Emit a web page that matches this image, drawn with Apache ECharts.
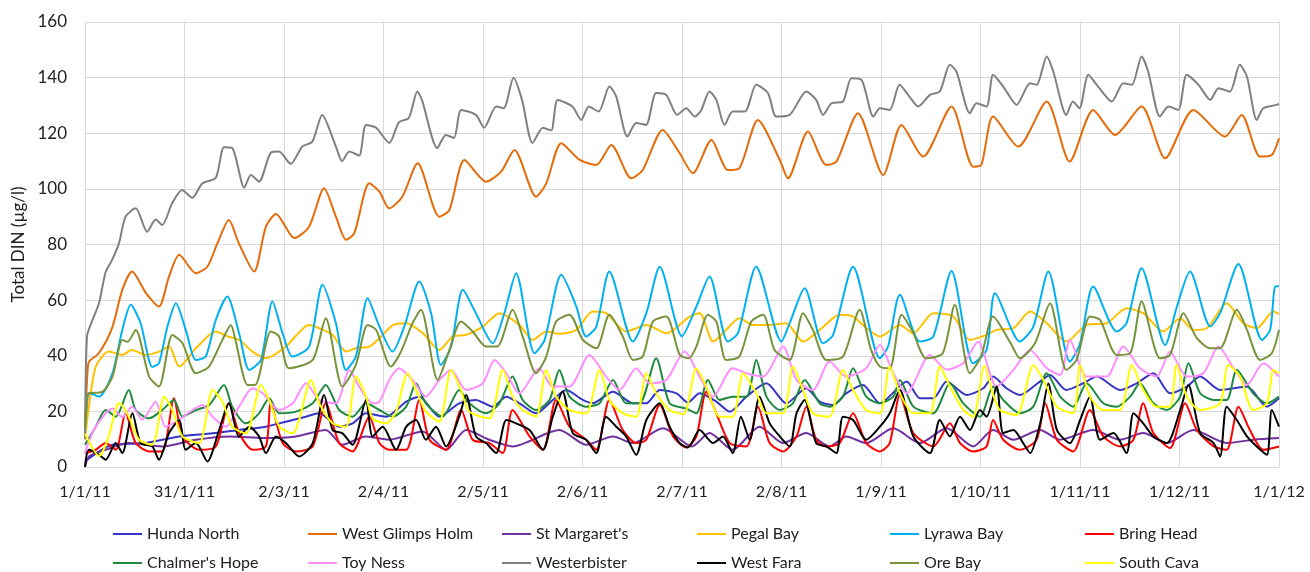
<!DOCTYPE html>
<html>
<head>
<meta charset="utf-8">
<script src="https://cdn.jsdelivr.net/npm/echarts@6/dist/echarts.min.js"></script>
<style>
  html, body { margin: 0; padding: 0; background: #fff; }
  #chart { width: 1310px; height: 572px; }
</style>
</head>
<body>
<div id="chart"></div>
<script>
// [day of 2011, total DIN µg/l]
const hundaNorth = [[0,2],[8.4,8],[18.6,8.6],[28.8,11],[39,12.1],[47.1,13.3],[55.3,14.5],[61.4,16.3],[67.5,18.1],[71.6,19.3],[77.7,14.5],[81.8,15.7],[85.9,19.3],[92,18.1],[98.2,23.5],[102.2,25.3],[108.3,18.1],[114.4,22.9],[119.5,24.1],[124.6,21.7],[128.8,25.3],[132.8,22.9],[137.9,19.3],[143,24.1],[147.1,27.7],[152.2,24.1],[155.2,22.9],[161.4,27.1],[167.5,22.9],[171.6,22.9],[175.7,27.7],[180.8,26.5],[184.3,23.2],[187.9,26.5],[193,23.5],[197.1,19.9],[202.2,25.3],[208.3,30.1],[214.4,22.9],[220.5,28.3],[224.6,23.5],[228.7,22.3],[232.7,26.5],[237.8,29.5],[243,22.9],[251.2,30.7],[255.2,24.7],[259.3,24.7],[263.4,30.7],[269.5,25.9],[274.6,28.3],[277.6,32.5],[281.7,28.3],[285.8,25.9],[291.9,30.7],[295,33.1],[300,27.7],[305.2,30.1],[309.3,32.5],[316.4,27.7],[321.5,30.1],[326.6,33.7],[331.7,26.5],[336.8,28.9],[340.9,32.5],[347,27.7],[355.2,28.9],[361.3,21.7],[365,24.7]];

const westGlimpsHolm = [[0,14],[0.8,35],[1.3,38],[4.3,41],[8.3,50],[11.4,63.7],[14.4,70.3],[18.6,62.6],[22.6,57.7],[25.7,68.5],[28.8,76.3],[33.9,69.7],[37.4,72],[40.5,80.5],[44,88.8],[47,80.5],[51.7,70.3],[55.3,86.4],[58.4,91],[64,82.3],[68.5,86.4],[73.1,100.2],[76.7,90],[79.8,81.7],[82.3,84],[86.9,102],[90,99],[93,93],[97,97.2],[101.7,109.2],[108.3,90],[111.4,92.4],[116,110.4],[122.6,102.6],[127.2,106.2],[131.3,114],[137.9,97.2],[141,102],[145.6,116.4],[151.2,110.4],[156.3,108.6],[160.9,115.8],[167,103.8],[170.5,106.8],[176.6,121.2],[181.8,112.8],[185.8,105.6],[191.5,117.6],[196.5,106.8],[200,107.4],[205.7,124.8],[212.4,110.4],[214.9,103.8],[221,120.6],[226.6,108.6],[229.7,109.8],[236.3,127.2],[244,105],[249.6,123],[256.2,111.6],[264.9,129.6],[271.5,108],[274,108.6],[277.6,126],[285.3,115.2],[294,131.4],[301,109.8],[308.2,128.4],[314.9,119.4],[323,129.6],[330.2,111],[338.8,128.4],[348.5,118.8],[353.6,126.6],[359.2,111.6],[362.8,112.2],[365,118.2]];

const stMargarets = [[0,0],[1.2,3.8],[6.3,6.2],[13.4,8.6],[23.6,7.4],[33.9,9.8],[44,11],[55.3,10.4],[64.5,11],[73.6,13.3],[78.7,8],[85.9,11],[93,9.8],[103.2,12.8],[110.4,6.2],[116.5,13.3],[123.6,9.8],[130.7,7.4],[145,13.3],[153.2,8],[161.4,11],[167.5,8.6],[176.7,13.9],[185.5,7.4],[190.9,12.2],[198,6.2],[206.2,14.5],[213.4,8.6],[220.5,12.2],[227.6,7.4],[232.7,11],[238.8,8.6],[247.1,13.9],[255.2,8.6],[263.4,13.9],[271.5,7.4],[277.6,13.3],[283.8,9.8],[291.9,13.3],[298.1,9.8],[308.2,13.3],[316.4,9.8],[323.5,12.2],[330.7,8.6],[338.8,13.3],[349,8.6],[357.1,9.8],[365,10.4]];

const pegalBay = [[0,10],[1,20],[3.3,36.1],[7.3,41.5],[11.4,40.3],[14.3,42.1],[18.6,40.3],[22.6,41.5],[25.7,43.3],[28.8,36.1],[33.9,42.7],[40,48.7],[43.5,47],[47.1,45.7],[51.2,41.5],[55.3,39.1],[61.4,43.3],[68.5,51.1],[71.6,49.9],[75.7,47.5],[79.8,41.5],[82.8,42.7],[86.9,43.3],[90,46.3],[94.1,51],[98.2,51.7],[103.3,48.1],[108.3,42.1],[112.4,46.9],[116.5,47.5],[121.6,50.5],[126.7,55.3],[132.8,51.1],[136.9,45.7],[141,48.7],[145,47.9],[150.2,49.3],[155.2,55.9],[159.3,55.3],[165.4,48.7],[171.6,51.1],[177.7,48.1],[184.8,54.1],[187.9,55.3],[192,45.1],[196,49.3],[200,53.5],[204.2,51.1],[209.3,51.1],[214.3,51.7],[219.5,45.1],[224.6,49.3],[230.7,54.7],[234.8,54.1],[238.9,49.9],[243,46.9],[249.1,51.1],[253.2,48.1],[259.3,55.3],[265.4,54.1],[270.5,45.7],[275.6,47.5],[278.7,49.3],[283.8,49.9],[288.9,55.9],[294,51.7],[300,45.1],[306.2,51.1],[312.3,51.7],[318.4,57.1],[323.5,55.3],[329.6,48.7],[334.8,53.5],[338.8,49.3],[342.9,49.9],[349,58.9],[354.1,51.7],[358.2,49.9],[363.3,55.9],[365,55]];

const lyrawaBay = [[0,14],[0.8,26],[1.2,26.5],[4.3,25.3],[8.4,33.7],[11.4,49.3],[14,58.3],[17,51.7],[20.6,36],[22.6,37.3],[25.2,50.5],[27.8,58.9],[30.8,49.3],[33.9,38.5],[36.9,39.7],[40,52.9],[43.5,61.3],[47.1,48.1],[50.2,34.9],[53.8,38.5],[57.3,59.5],[60.4,48.1],[63.4,39.7],[68.5,43.3],[72.6,65.5],[76.7,51.7],[79.8,34.9],[82.8,39.7],[86.4,60.7],[90,50.5],[94,41.5],[97.6,50.5],[102.2,66.7],[105.8,55.3],[108.8,36.7],[111.9,43.3],[115.5,63.7],[119.5,55.3],[124.6,44.5],[128.2,55.3],[131.8,69.7],[137.4,40.9],[140.5,45.7],[145.6,69.1],[150.2,57.7],[153.2,46.9],[156.3,50.5],[160.3,70.3],[167.5,45.1],[171.6,55.3],[175.7,72],[182.5,47],[186.9,57.7],[190.9,68.5],[196.5,45.1],[199.6,48.1],[205.2,72],[212.9,45.1],[215.4,51.7],[220,64.3],[225.6,44.5],[228.7,47.5],[234.8,72],[243,39.1],[245.5,43.3],[249.1,61.9],[255.2,45.1],[259.3,46.9],[264.9,70.5],[271.5,37.3],[275.6,42.1],[278.2,62.5],[285.8,45.1],[289.9,50.5],[294.5,70.3],[301.1,37.9],[304.2,44.5],[308.2,64.9],[315.4,48.7],[318.4,51.7],[323,71.5],[330.2,43.9],[333.8,57.7],[337.8,70.3],[344,50.5],[347,55.3],[352.6,73],[359.8,45.7],[362.3,49.3],[363.8,64.9],[365,65]];

const bringHead = [[0,5],[3.3,6.2],[6.3,8.6],[9.4,6.2],[12.4,19.3],[15.5,8.6],[19.6,5.6],[23.6,5.6],[27.2,24.7],[29.8,11],[34.9,6.2],[40,7.4],[44,22.9],[47.1,12.2],[51.2,6.2],[55.3,7.4],[56.8,22.9],[60.4,8.6],[64.5,5.6],[69.6,7.4],[73.6,22.9],[77.7,8.6],[81.8,5.6],[86.9,18.1],[90,8.6],[93,6.2],[98.2,6.2],[102.2,24.1],[105.3,9.8],[110.4,6.2],[115,20.5],[118.5,9.8],[123.6,8.6],[127.7,5],[130.7,20.5],[135.9,11],[140,6.2],[144,24.1],[148.1,14.5],[153.2,9.8],[156.3,6.2],[160.3,24.1],[164.4,13.3],[168.5,8.6],[171.6,9.8],[175.7,22.3],[179.8,11],[183.8,7],[186.9,11],[189.9,27.1],[193,19.3],[197.1,8.6],[202.2,7.4],[205.7,21.7],[209.3,8.6],[213.4,5.6],[217.5,11],[220.5,21.7],[223.5,9.8],[226.6,7.4],[230.7,8.6],[234.8,19.3],[238.8,8.6],[243,5.6],[246,8.6],[249.1,25.9],[253.2,12.2],[259.3,7.4],[264.4,15.7],[267.5,8.6],[271.5,5.6],[275.6,7.4],[277.6,16.9],[280.7,9.8],[285.8,6.2],[290.9,9.8],[293.5,22.9],[297.1,9.8],[302.1,5.6],[307.2,20.5],[311.3,11],[316.4,7.4],[320.5,9.8],[323.5,22.9],[326.6,12.2],[331.7,6.8],[336.3,22.9],[339.9,13.3],[345,7.4],[349,6.2],[352.6,21.7],[356.1,13.3],[360.2,6.2],[365,7.4]];

const chalmersHope = [[0,8],[3.3,14.5],[6.3,20.5],[9.4,18.1],[13.4,27.7],[15.5,20.5],[19.6,17.5],[23.6,20.5],[27.2,24.1],[29.8,18.1],[33.9,20.5],[38,22.3],[42.5,29.5],[45,21.7],[49.2,15.7],[53.2,19.3],[56.3,24.7],[59.4,19.3],[64.5,19.9],[69.6,22.9],[73.6,29.5],[77.7,20.5],[81.8,18.1],[85.9,22.9],[90,20.5],[94,18.1],[98.2,21.7],[101.2,30.1],[104.2,22.9],[109.3,18.1],[114.4,27.7],[117.5,22.9],[122.6,19.3],[126.7,22.9],[130.7,32.5],[133.8,24.1],[137.9,20.5],[142,24.1],[145,34.9],[148.1,25.3],[153.2,21.7],[157.3,22.9],[161.4,31.3],[165.4,22.9],[169.5,22.9],[174.6,39.1],[178.7,22.9],[183.8,21],[186.9,19.3],[190.4,31.3],[194,24.1],[198,25.3],[202.2,25.3],[205.2,38.5],[208.3,25.3],[212.4,20.5],[216.4,22.9],[220,31.3],[224.6,22.9],[227.6,21.7],[231.7,25.3],[234.8,35.5],[238.8,25.3],[243,22.9],[247.1,25.3],[249.1,31.3],[253.2,21.7],[259.3,19.3],[264.4,30.1],[268.5,22.9],[273.6,18.1],[277.6,28.9],[280.7,24.1],[285.8,19.3],[289.9,21.7],[294,33.7],[298.1,25.3],[302.1,21.7],[306.2,30.1],[311.3,22.9],[315.4,21.7],[319.5,25.3],[322.5,30.1],[326.6,22.9],[330.7,20.5],[334.8,25.3],[337.3,37.3],[340.9,26.5],[345,24.1],[349,24.1],[352.1,34.9],[357.1,26.5],[361.3,22.9],[365,25.3]];

const toyNess = [[0,5],[3,14],[8.4,21],[11.4,18],[14.4,21.7],[17.5,17],[21.6,23.5],[24.7,14.5],[28.8,17],[32.9,20.5],[35.9,22.3],[39,18.1],[43.1,14.5],[47.1,21.7],[51.2,28.3],[54.3,26.5],[59.4,20.5],[63.5,22.9],[67.5,30.1],[71.6,24.1],[76.7,22.9],[80.8,34.9],[83.8,28.9],[87.9,22.9],[90,23.5],[93,31.3],[96,35.5],[100.1,31.3],[104.2,25.3],[108.3,31.3],[111.9,34.9],[116.5,27.7],[121.6,30.1],[125.2,38.5],[128.8,33.7],[132.8,26.5],[138.9,35.5],[143,28.9],[148.1,28.9],[154.2,40.3],[159.3,32.5],[163.4,27.7],[168.5,35.5],[172.6,30.1],[177.7,31.3],[183.3,41.5],[187.9,32.5],[192,25.3],[198,35.5],[202.2,33.7],[207.3,32.5],[213.4,43.3],[217.5,31.3],[222.5,27.7],[227.6,37.9],[232.7,32.5],[238.8,35.5],[243,43.9],[247.1,33.7],[251.2,26.5],[258.3,40.3],[263.4,35],[268.5,37.3],[273,45],[278.7,28.9],[283.8,34.9],[288.9,42.1],[294,35.5],[298.1,33.1],[301.1,45.7],[306.2,32.5],[312.3,32.5],[317.4,43.3],[322.5,35.5],[327.6,32.5],[331.7,41.5],[336.8,32.5],[341.9,33.7],[346.5,43.3],[351.1,35.5],[355.2,29.5],[360.2,37.3],[365,32.5]];

const westerbister = [[0,10],[0.6,47],[2,52],[4.3,59],[6.3,70],[8.3,74.5],[10.4,80.5],[12.4,90],[15.5,93],[19,84.6],[21.6,89],[23.6,87],[26.7,95],[29.7,99.6],[32.8,96.8],[35.9,102],[40,104],[42.5,115],[45,114.7],[48.7,100.4],[50.7,105],[53.2,102.6],[56.8,113],[59.3,113.4],[62.9,109],[66.4,115.2],[69.5,117],[72.5,126.6],[76.7,115.2],[78.6,110],[80.8,113.4],[83.8,112],[85.9,123],[89,122],[93,116.5],[96,124],[99,125.5],[101.6,135],[103,132],[107.7,114.7],[110.3,119.4],[112.8,118.3],[115,128.4],[119.5,126.6],[122,122],[125.7,129.6],[128,129],[131,140],[133.6,132],[136.8,116.5],[140,122],[142.5,121],[144.5,132],[149,129.6],[151.7,124.8],[154,129.6],[157,127.8],[160.3,136.8],[162.4,133.2],[165.8,118.8],[168.5,123.7],[171.5,123],[174.6,134.5],[177.7,133.8],[181,126.6],[183.8,129],[186.4,126],[188.4,128.4],[190.9,135],[193,132],[195.5,123],[198,127.8],[201.7,127.8],[205.2,137.4],[208.8,134.4],[211.3,126],[215.4,126.6],[220.5,135],[223.5,132],[225.6,126.6],[228.2,130.8],[231.7,131.4],[234.3,139.8],[237.4,139.2],[241,126],[243,129],[246,128.4],[249,137.4],[252,133.2],[254.7,129.6],[258.3,133.8],[261.3,135],[264.4,144.6],[266.4,142.2],[270.5,127.2],[272.5,130.8],[275.6,129.6],[277.6,141],[280.7,136.8],[284.8,130.2],[288.9,138],[290.9,137.4],[294,147.6],[296,142.2],[300,126.6],[302,131.4],[304,129],[306.7,141],[309.3,137.4],[313.9,131.4],[317.4,138],[320,137.4],[323,147.6],[325,142.2],[328.6,126],[331.2,129.6],[334.2,128.4],[336.8,141],[340.4,137.4],[344,132],[346.5,136.2],[350,135],[353,144.6],[355.2,140.4],[358.2,124.8],[360.2,129],[364.3,130.2],[365,130.5]];

const westFara = [[0,0],[1.2,6.2],[4.3,4.4],[6.3,2.6],[9.4,8.6],[11.4,5],[14.5,19.3],[17,8.6],[20.6,7.4],[22.6,2.6],[25.7,12.2],[28.8,16.9],[30.8,6.2],[33.9,8.6],[37.4,2],[41,13.3],[44,22.9],[47.1,11],[50.2,14.5],[53.2,11],[55.3,5],[58.4,11],[61.4,8.6],[65.5,3.8],[69.6,8.6],[73.1,25.9],[75.7,13.3],[78.7,12.1],[81.8,8],[85.9,24.1],[87.9,11],[91,14.5],[95.1,6.2],[98.2,14.5],[101.2,16.9],[104.2,9.8],[107.3,14.5],[110.4,7.4],[114.4,18.1],[116.5,25.9],[119.5,11],[122.6,8.6],[125.7,5],[128.8,16.9],[131.8,15.7],[135.9,13.3],[140,6.2],[143,18.1],[146,27.1],[149.1,12.2],[153.2,9.8],[156.3,5],[159.3,18.1],[162.4,14.5],[165.4,11],[168.5,4.4],[171.6,16.9],[175.7,22.9],[178.7,14.5],[181.8,8.6],[184.3,7],[187.9,13.3],[192,8.6],[195,11],[198,5],[200.5,18.1],[203.2,9.8],[206.2,25.3],[209.3,15.7],[212.4,11],[215.4,7.4],[217.5,19.3],[220,24.1],[223.5,8.6],[226.6,7.4],[229.7,5],[231.7,18.1],[234.8,16.9],[238.8,9.8],[243,14.5],[246,19.3],[249.1,27.7],[253.2,11],[258.3,5],[261.3,16.9],[264.4,11],[267.5,18.1],[270.5,13.3],[273.6,20.5],[275.6,18.1],[278.7,28.9],[280.7,12.2],[283.8,13.3],[286.8,8.6],[288.9,5],[292,15.7],[294.5,30],[297.1,13.3],[301.1,8.6],[304.2,16.9],[307.2,25.3],[310.3,9.8],[314.4,12.2],[318.4,5],[320.5,19.3],[323.5,15.7],[326.6,11],[330.7,8.6],[334.8,20.5],[337.3,29.5],[340.9,12.2],[345,8.6],[347,3.8],[349,21.7],[352.1,16.9],[355.2,11],[358.2,7.4],[361.3,4.4],[362.8,20.5],[365,14.5]];

const oreBay = [[0,14],[0.8,25],[1.2,26.5],[5.3,27],[8.4,32.5],[11.4,45.7],[13,45],[15.5,49.3],[19.6,32.5],[22.6,28.9],[26.7,47.5],[29.8,44.5],[33.9,33.7],[37.9,36.1],[42,45.7],[44.6,51.1],[46,45.7],[49.7,29.5],[52,29.5],[56.8,48.7],[59.3,47],[62.4,35.5],[69.6,38.5],[73.6,53.5],[78.7,28.9],[82.8,36.7],[86.4,51.1],[89,49.3],[93.5,36.1],[96.6,41.5],[100.1,51.7],[102.7,56.5],[107.8,31.3],[110.9,40.3],[115,52.3],[118.5,48.7],[122.6,43.3],[126,43.3],[130.7,56.5],[133.8,46.9],[137.9,33.7],[141,39.7],[144,52.3],[148.1,54.7],[152.2,45.7],[156.3,42.7],[160.3,54.7],[164.4,46.9],[167.5,38.5],[170.5,39.7],[173.6,52.3],[177.7,54.1],[181.8,40.3],[184.6,39.1],[186.9,43.3],[190.4,54.7],[193,52.3],[196,38.5],[200,39.7],[203.7,52.3],[207.3,54.7],[210.8,42.1],[215.4,38.5],[219.5,55.3],[222.5,49.3],[226.6,38.5],[231.7,39.7],[236.8,56.5],[240.3,42.1],[243,36.1],[246,35.5],[249.6,54.7],[253,48.7],[257.1,39.1],[262.2,40.9],[265.9,58.3],[270.5,33.7],[274,40],[277.6,54.1],[283,44.5],[285.8,39.1],[290.4,44.5],[295,58.9],[300,34.9],[303.1,38.5],[307.2,54.1],[310.3,52.9],[315.4,40.3],[319.5,40.9],[323,59.5],[328.6,39.1],[331.7,40.3],[335.8,55.3],[339.9,46.3],[344,42.7],[347,42.7],[352.1,56.5],[355.2,49.3],[359.2,38.5],[362.8,40.9],[365,49.3]];

const southCava = [[0,12],[4.3,4],[7,10],[9.4,21],[10.4,23],[13.4,18.1],[16.5,9.8],[20.6,8],[24.2,25.3],[26.7,20.5],[29.8,11],[34.9,8.6],[39,27.7],[42,23.5],[45,14.5],[49.2,12.1],[53.8,29.5],[56.3,24.1],[59.4,14.5],[63.5,12.1],[69.1,31.3],[71.6,22.9],[75.7,15.7],[79.8,14.5],[82.8,32.5],[85.9,25.3],[87.9,17.5],[92,15.7],[95.1,19.9],[98.6,33.7],[101.2,27.7],[104.2,19.9],[108.3,16.3],[111.9,34.9],[114.9,27.7],[117.5,19.9],[123.6,17.5],[127.7,34.9],[130.7,25.3],[133.8,20.5],[137.9,18.1],[141,34.9],[144,25.3],[148.1,20.5],[153.2,19.3],[157.3,34.9],[160.3,24.1],[164.4,19.3],[168.5,18.1],[171.6,33.7],[174.6,26.5],[178.7,20.5],[183,19],[186.9,35.5],[189.9,28.9],[194,18.1],[198,18.1],[201.2,33.7],[205.2,26.5],[208.3,19.3],[213.4,19.3],[216.4,36.1],[219.5,27.7],[222.5,19.3],[227.6,18.1],[231.7,34.9],[234.8,27.7],[238.8,20.5],[243,19.3],[246,36.1],[249.1,26.5],[253.2,19.3],[258.3,19.3],[261.3,36.1],[264.4,28.9],[268.5,20.5],[271.5,18.1],[275,36.5],[277.5,26.5],[279.7,20.5],[284.8,18.7],[289.9,36.7],[293,31.3],[297.1,21.7],[302.1,19.3],[304.2,36.7],[307.2,25.3],[311.3,20.5],[316.4,20.5],[320,36.7],[323.5,27.7],[327.6,21.7],[331.7,21.7],[333.7,36.7],[336.8,25.3],[340.9,20.5],[347,22.9],[349.5,36.7],[353.1,32.5],[357.1,20.5],[361.3,22.9],[363.3,34.9],[365,33.7]];

const xTickLabels = ['1/1/11', '31/1/11', '2/3/11', '2/4/11', '2/5/11', '2/6/11', '2/7/11', '2/8/11', '1/9/11', '1/10/11', '1/11/11', '1/12/11', '1/1/12'];

const seriesNames = ['Hunda North', 'West Glimps Holm', "St Margaret's", 'Pegal Bay', 'Lyrawa Bay', 'Bring Head',
  "Chalmer's Hope", 'Toy Ness', 'Westerbister', 'West Fara', 'Ore Bay', 'South Cava'];
const seriesColors = ['#3535C8', '#E46C0A', '#7030A0', '#FFC000', '#00B0F0', '#FF0000',
  '#1D8A3E', '#FF8FFF', '#808080', '#000000', '#77933C', '#FFFF00'];
const seriesData = [hundaNorth, westGlimpsHolm, stMargarets, pegalBay, lyrawaBay, bringHead,
  chalmersHope, toyNess, westerbister, westFara, oreBay, southCava];

const FONT = 'Lato, "Open Sans", sans-serif';
const step = 365 / 12;

const chart = echarts.init(document.getElementById('chart'));

// Excel puts the legend in a fixed 6 x 2 grid, one legend per cell keeps the columns aligned
const legendLeft = [113, 308, 502, 697, 890, 1085];
const legendTop = [526, 555];
const legends = seriesNames.map((name, i) => ({
  left: legendLeft[i % 6],
  top: legendTop[Math.floor(i / 6)],
  padding: 0,
  itemWidth: 29,
  itemHeight: 2,
  icon: 'rect',
  textStyle: { fontFamily: FONT, fontSize: 16, color: '#222' },
  data: [name]
}));

const option = {
  animation: false,
  backgroundColor: '#fff',
  grid: { left: 85, right: 31, top: 22, bottom: 105 },
  legend: legends,
  xAxis: {
    type: 'value',
    min: 0,
    max: 365,
    interval: step,
    axisLine: { show: true, lineStyle: { color: '#D9D9D9' } },
    axisTick: { show: false },
    splitLine: { show: true, lineStyle: { color: '#D9D9D9', width: 1 } },
    axisLabel: {
      margin: 17,
      showMinLabel: true,
      showMaxLabel: true,
      fontFamily: FONT,
      fontSize: 16,
      color: '#222',
      formatter: v => xTickLabels[Math.round(v / step)]
    }
  },
  yAxis: {
    type: 'value',
    min: 0,
    max: 160,
    interval: 20,
    name: 'Total DIN (µg/l)',
    nameLocation: 'middle',
    nameGap: 58,
    nameTextStyle: { fontFamily: FONT, fontSize: 17, color: '#222' },
    axisLine: { show: false },
    axisTick: { show: false },
    splitLine: { lineStyle: { color: '#D9D9D9', width: 1 } },
    axisLabel: { margin: 18, fontFamily: FONT, fontSize: 17, color: '#222' }
  },
  series: seriesNames.map((name, i) => ({
    name: name,
    type: 'line',
    data: seriesData[i],
    showSymbol: false,
    smooth: 0.25,
    color: seriesColors[i],
    lineStyle: { width: 2, color: seriesColors[i] }
  }))
};

chart.setOption(option);
</script>
</body>
</html>
